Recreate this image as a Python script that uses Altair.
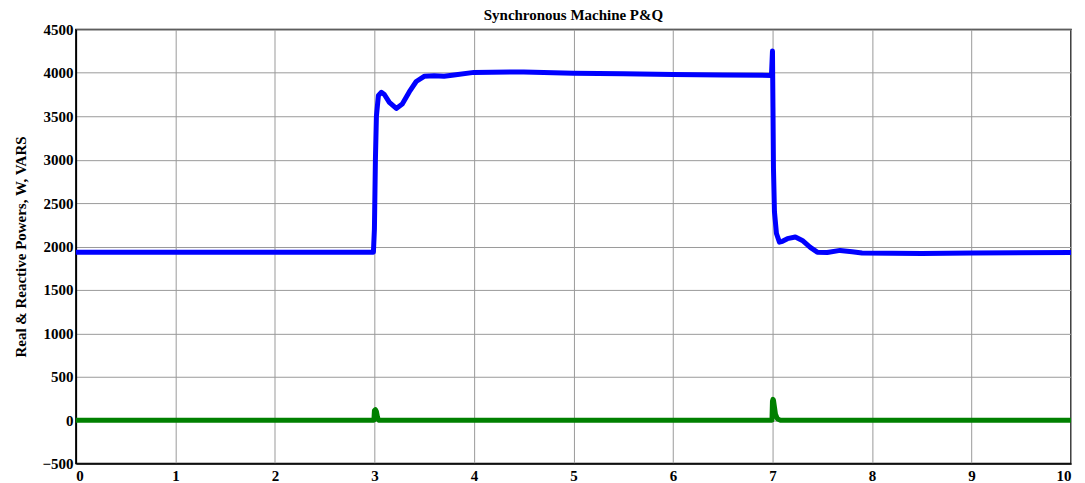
import altair as alt
import pandas as pd

# Real power P (W)
p_time = [0, 2.99, 3.0, 3.01, 3.02, 3.04, 3.07, 3.1, 3.15, 3.22, 3.28, 3.35, 3.42, 3.5, 3.6, 3.7, 3.8,
          4.0, 4.5, 5.0, 5.5, 6.0, 6.5, 6.99, 7.0, 7.005, 7.01, 7.02, 7.04, 7.07, 7.1, 7.15, 7.23,
          7.3, 7.38, 7.45, 7.55, 7.68, 7.8, 7.9, 8.5, 9.0, 10.0]
p_value = [1935, 1935, 2200, 3000, 3500, 3740, 3775, 3750, 3660, 3590, 3640, 3780, 3900, 3960, 3965,
           3960, 3975, 4005, 4010, 3995, 3990, 3980, 3975, 3970, 4250, 3600, 2900, 2400, 2150, 2050,
           2060, 2090, 2110, 2070, 1990, 1935, 1930, 1955, 1940, 1925, 1920, 1925, 1930]

# Reactive power Q (VARS)
q_time = [0, 2.995, 3.0, 3.01, 3.02, 3.03, 3.04, 6.995, 7.0, 7.005, 7.01, 7.02, 7.03, 7.05, 7.08, 10.0]
q_value = [0, 0, 110, 120, 100, 40, 0, 0, 220, 240, 230, 150, 70, 15, 0, 0]

x_ticks = [0, 1, 2, 3, 4, 5, 6, 7, 8, 9, 10]
y_ticks = [-500, 0, 500, 1000, 1500, 2000, 2500, 3000, 3500, 4000, 4500]

title_text = ["Synchronous Machine P&Q"]

df = pd.concat([
    pd.DataFrame({"t": p_time, "v": p_value, "s": "P", "o": range(len(p_time))}),
    pd.DataFrame({"t": q_time, "v": q_value, "s": "Q", "o": range(len(q_time))}),
])

FONT = "Liberation Serif"

lines = alt.Chart(df).mark_line(strokeWidth=5, strokeJoin="round").encode(
    x=alt.X("t:Q", scale=alt.Scale(domain=[0, 10], nice=False),
            axis=alt.Axis(values=x_ticks, title=None, format="d")),
    y=alt.Y("v:Q", scale=alt.Scale(domain=[-500, 4500], nice=False),
            axis=alt.Axis(values=y_ticks, title="Real & Reactive Powers, W, VARS", format="d")),
    color=alt.Color("s:N", scale=alt.Scale(domain=["P", "Q"], range=["#0000FF", "#008000"]), legend=None),
    order="o:Q",
)

title = alt.Chart(pd.DataFrame({"label": title_text})).mark_text(
    font=FONT, fontSize=15, fontWeight="bold", color="black", align="center", baseline="alphabetic"
).encode(
    x=alt.value(498.5), y=alt.value(-9), text="label:N"
)

chart = alt.layer(lines, title).properties(
    width=997, height=435,
    autosize=alt.AutoSizeParams(type="none"),
    padding={"left": 68, "top": 21, "right": 6, "bottom": 20},
).configure_view(
    stroke="black", strokeWidth=1.5
).configure_axis(
    grid=True, gridColor="#9a9a9a", gridWidth=1, gridOpacity=1,
    domain=True, domainColor="black", domainWidth=1.5,
    ticks=False,
    labelFont=FONT, labelFontSize=15, labelFontWeight="bold", labelColor="black",
    titleFont=FONT, titleFontSize=15, titleFontWeight="bold", titleColor="black",
).configure_axisY(
    labelPadding=3, titlePadding=13
).configure_axisX(
    labelPadding=5
)

chart.save("out.html", embed_options={"renderer": "svg", "actions": False})
